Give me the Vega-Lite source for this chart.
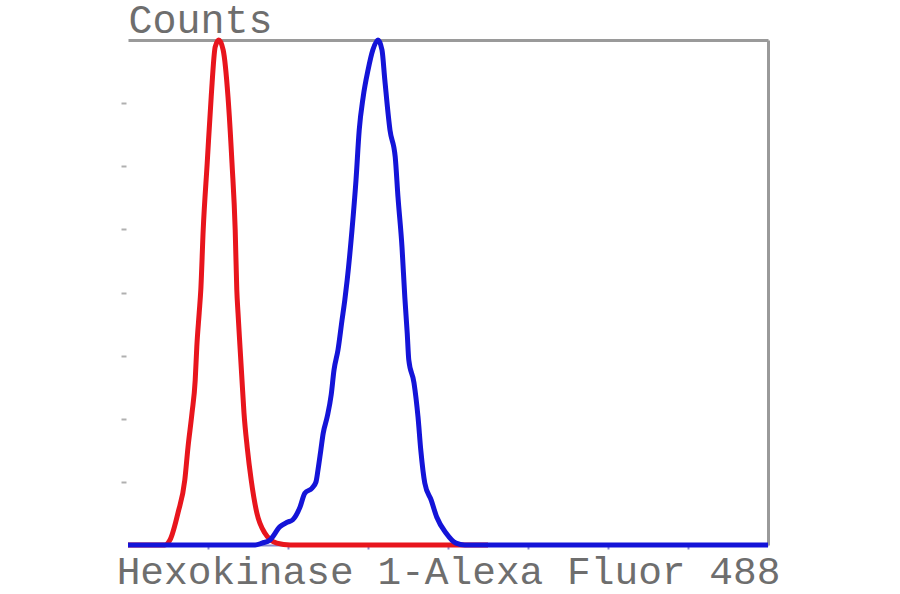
{
  "$schema": "https://vega.github.io/schema/vega-lite/v6.json",
  "width": 640,
  "height": 505,
  "autosize": {"type": "none"},
  "padding": {"left": 128, "top": 40, "right": 132, "bottom": 49},
  "background": "white",
  "config": {
    "view": {"stroke": null},
    "axis": {"labels": false, "grid": false}
  },
  "datasets": {
    "isotype": [
      {"x": 0, "y": 0}, {"x": 0.275, "y": 0}, {"x": 0.46, "y": 0},
      {"x": 0.525, "y": 0.08}, {"x": 0.625, "y": 0.51}, {"x": 0.71, "y": 1.03},
      {"x": 0.75, "y": 1.55}, {"x": 0.8, "y": 2.09}, {"x": 0.84, "y": 2.61},
      {"x": 0.86, "y": 3.14}, {"x": 0.89, "y": 3.68}, {"x": 0.91, "y": 4.04},
      {"x": 0.94, "y": 4.99}, {"x": 0.99, "y": 6.05}, {"x": 1.04, "y": 7.1},
      {"x": 1.09, "y": 7.89}, {"x": 1.135, "y": 8.0}, {"x": 1.19, "y": 7.84},
      {"x": 1.25, "y": 7.1}, {"x": 1.3, "y": 6.05}, {"x": 1.34, "y": 4.99},
      {"x": 1.36, "y": 4.04}, {"x": 1.375, "y": 3.68}, {"x": 1.4, "y": 3.14},
      {"x": 1.425, "y": 2.61}, {"x": 1.45, "y": 2.09}, {"x": 1.49, "y": 1.55},
      {"x": 1.54, "y": 1.03}, {"x": 1.61, "y": 0.51}, {"x": 1.71, "y": 0.19},
      {"x": 1.86, "y": 0.03}, {"x": 2.03, "y": 0}, {"x": 4.5, "y": 0}
    ],
    "sample": [
      {"x": 0, "y": 0}, {"x": 1.59, "y": 0}, {"x": 1.675, "y": 0.03},
      {"x": 1.775, "y": 0.08}, {"x": 1.9, "y": 0.29}, {"x": 1.99, "y": 0.36},
      {"x": 2.06, "y": 0.4}, {"x": 2.15, "y": 0.6}, {"x": 2.21, "y": 0.82},
      {"x": 2.3, "y": 0.9}, {"x": 2.35, "y": 1.0}, {"x": 2.375, "y": 1.19},
      {"x": 2.41, "y": 1.5}, {"x": 2.44, "y": 1.77}, {"x": 2.49, "y": 2.03},
      {"x": 2.54, "y": 2.38}, {"x": 2.575, "y": 2.77}, {"x": 2.625, "y": 3.09},
      {"x": 2.675, "y": 3.56}, {"x": 2.71, "y": 3.88}, {"x": 2.74, "y": 4.2},
      {"x": 2.8, "y": 4.99}, {"x": 2.85, "y": 5.78}, {"x": 2.89, "y": 6.57},
      {"x": 2.94, "y": 7.1}, {"x": 3.0, "y": 7.52}, {"x": 3.06, "y": 7.84},
      {"x": 3.125, "y": 8.0}, {"x": 3.175, "y": 7.84}, {"x": 3.21, "y": 7.37},
      {"x": 3.275, "y": 6.57}, {"x": 3.34, "y": 6.15}, {"x": 3.375, "y": 5.51},
      {"x": 3.425, "y": 4.72}, {"x": 3.46, "y": 3.93}, {"x": 3.49, "y": 3.36},
      {"x": 3.51, "y": 2.93}, {"x": 3.575, "y": 2.57}, {"x": 3.625, "y": 2.03},
      {"x": 3.66, "y": 1.5}, {"x": 3.71, "y": 0.98}, {"x": 3.79, "y": 0.71},
      {"x": 3.86, "y": 0.44}, {"x": 3.975, "y": 0.19}, {"x": 4.1, "y": 0.03},
      {"x": 4.21, "y": 0}, {"x": 8, "y": 0}
    ]
  },
  "layer": [
    {
      "data": {"name": "isotype"},
      "mark": {"type": "line", "color": "#e8151d", "strokeWidth": 5, "interpolate": "monotone", "strokeJoin": "round"},
      "encoding": {
        "x": {
          "field": "x", "type": "quantitative",
          "scale": {"domain": [0, 8], "nice": false, "zero": false},
          "axis": {
            "orient": "bottom", "values": [1, 2, 3, 4, 5, 6, 7],
            "domainColor": "#8a8ad0", "domainWidth": 2,
            "tickColor": "#8a8ad0", "tickSize": 4, "tickWidth": 2,
            "title": "Hexokinase 1-Alexa Fluor 488",
            "titleFont": "Liberation Mono", "titleFontSize": 39.5, "titleFontWeight": "normal",
            "titleColor": "#6e6e6e", "titleBaseline": "alphabetic", "titleY": 38
          }
        },
        "y": {
          "field": "y", "type": "quantitative",
          "scale": {"domain": [0, 8], "nice": false},
          "axis": {
            "orient": "left", "values": [1, 2, 3, 4, 5, 6, 7],
            "domain": false, "offset": 2,
            "tickColor": "#b0b0b0", "tickSize": 5, "tickWidth": 2,
            "title": "Counts", "titleAngle": 0, "titleAlign": "left",
            "titleBaseline": "alphabetic", "titleX": 2, "titleY": -8,
            "titleFont": "Liberation Mono", "titleFontSize": 40, "titleFontWeight": "normal",
            "titleColor": "#6e6e6e"
          }
        }
      }
    },
    {
      "data": {"name": "sample"},
      "mark": {"type": "line", "color": "#1414d8", "strokeWidth": 5, "interpolate": "monotone", "strokeJoin": "round"},
      "encoding": {
        "x": {"field": "x", "type": "quantitative", "axis": null},
        "y": {"field": "y", "type": "quantitative", "axis": null}
      }
    },
    {
      "data": {"name": "sample"},
      "mark": {"type": "line", "opacity": 0},
      "encoding": {
        "x": {
          "field": "x", "type": "quantitative",
          "axis": {"orient": "top", "ticks": false, "title": null, "domainColor": "#9a9a9a", "domainWidth": 3}
        },
        "y": {
          "field": "y", "type": "quantitative",
          "axis": {"orient": "right", "ticks": false, "title": null, "domainColor": "#9a9a9a", "domainWidth": 3}
        }
      }
    }
  ],
  "resolve": {"axis": {"x": "independent", "y": "independent"}}
}
